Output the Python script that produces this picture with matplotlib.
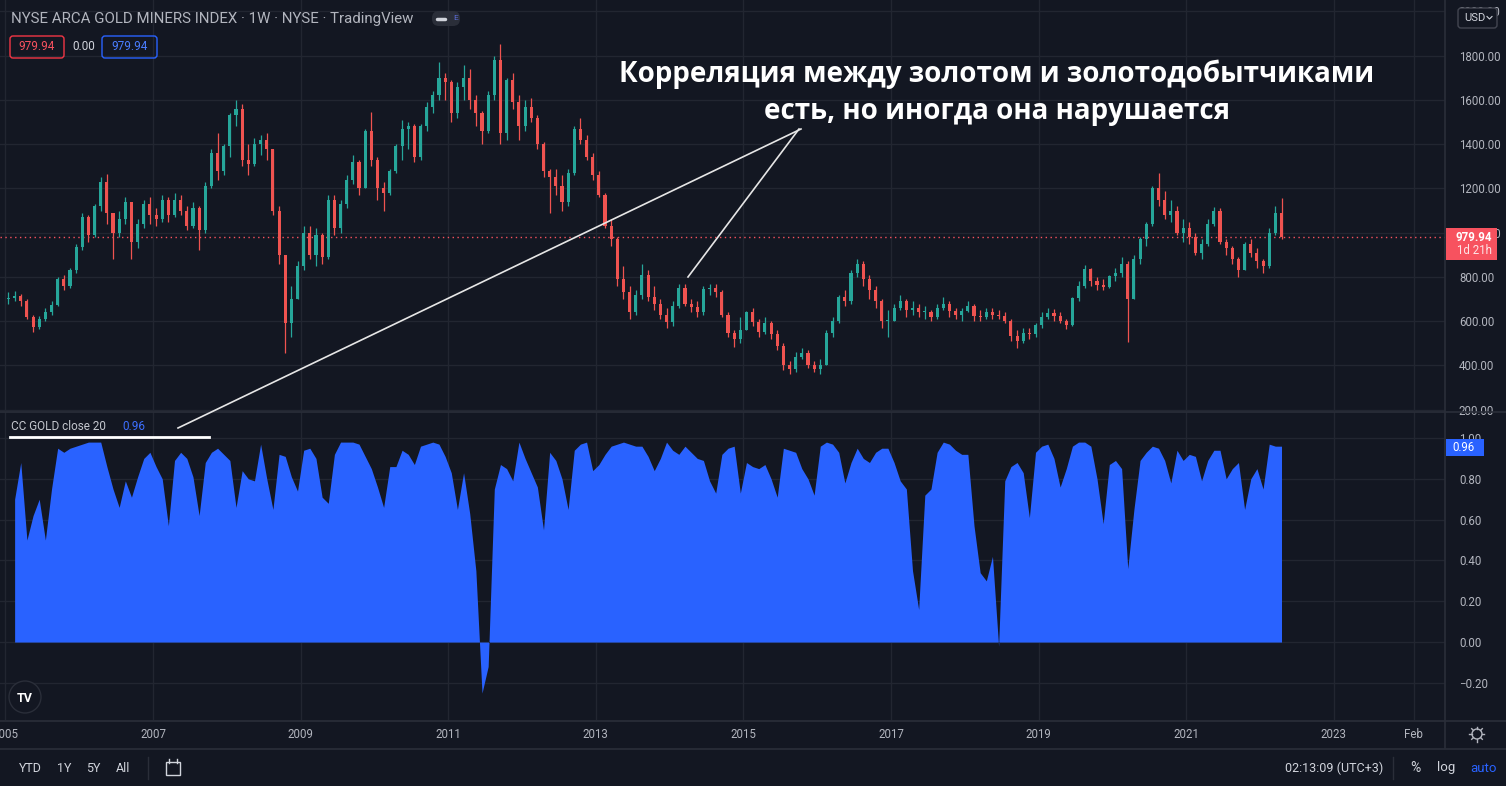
import numpy as np
import matplotlib
matplotlib.use("Agg")
import matplotlib.pyplot as plt
from matplotlib.patches import FancyBboxPatch, Rectangle, Circle

# NYSE Arca Gold Miners, read off the weekly chart and thinned to one candle per month
# (Jan 2005 .. Apr 2022). open of each candle = previous close.
first_open = 700
closes = [
    705, 715, 690, 620, 575, 610, 640, 675, 790, 760, 830, 935,            # 2005
    1070, 990, 1120, 1230, 1090, 1000, 1060, 1140, 960, 1040, 1130, 1080,  # 2006
    1060, 1150, 1080, 1150, 1100, 1030, 1110, 1010, 1210, 1360, 1280, 1390,
    1530, 1560, 1330, 1310, 1400, 1420, 1380, 1100, 900, 590, 700, 850,    # 2008
    1000, 900, 990, 890, 1150, 1020, 1130, 1240, 1320, 1200, 1460, 1330,
    1200, 1180, 1280, 1390, 1470, 1480, 1340, 1480, 1570, 1620, 1700, 1680,  # 2010
    1540, 1660, 1700, 1600, 1540, 1460, 1620, 1780, 1450, 1690, 1590, 1480,
    1570, 1520, 1400, 1280, 1250, 1210, 1140, 1270, 1470, 1420, 1340, 1260,  # 2012
    1170, 1030, 970, 790, 730, 640, 720, 810, 710, 680, 630, 595,
    670, 750, 680, 665, 640, 745, 750, 730, 630, 545, 520, 560,            # 2014
    640, 595, 550, 590, 540, 490, 400, 385, 440, 455, 400, 385,
    400, 545, 600, 710, 690, 820, 860, 790, 740, 690, 600, 600,            # 2016
    660, 690, 650, 660, 640, 640, 620, 660, 680, 645, 630, 645,
    670, 625, 620, 640, 630, 625, 600, 535, 510, 545, 540, 585,            # 2018
    620, 635, 625, 600, 585, 705, 760, 835, 780, 765, 755, 805,
    820, 860, 700, 880, 970, 1040, 1200, 1150, 1080, 1100, 1000, 1020,     # 2020
    980, 910, 950, 1040, 1100, 960, 930, 880, 830, 950, 910, 870,
    850, 1000, 1090, 979.94,                                               # 2022
]
highs = [
    730, 735, 725, 700, 630, 625, 660, 690, 800, 810, 840, 950,
    1090, 1080, 1130, 1250, 1265, 1080, 1100, 1160, 1140, 1060, 1150, 1160,
    1110, 1170, 1160, 1180, 1170, 1120, 1140, 1120, 1230, 1380, 1450, 1400,
    1540, 1600, 1580, 1400, 1430, 1440, 1450, 1380, 1120, 900, 760, 870,
    1030, 1030, 1020, 1000, 1170, 1170, 1150, 1260, 1350, 1330, 1470, 1545,
    1340, 1230, 1290, 1400, 1508, 1500, 1490, 1490, 1590, 1640, 1771, 1720,
    1690, 1680, 1760, 1740, 1620, 1550, 1640, 1800, 1852, 1700, 1720, 1620,
    1600, 1610, 1530, 1410, 1290, 1290, 1260, 1290, 1480, 1520, 1440, 1360,
    1280, 1180, 1060, 980, 850, 760, 740, 860, 830, 760, 700, 660,
    690, 770, 770, 700, 690, 760, 770, 770, 740, 640, 560, 620,
    645, 660, 610, 620, 600, 560, 500, 420, 460, 480, 470, 420,
    430, 560, 620, 720, 740, 830, 880, 870, 810, 760, 700, 650,
    680, 720, 700, 690, 680, 670, 650, 680, 710, 690, 660, 660,
    690, 680, 650, 660, 660, 650, 640, 610, 560, 570, 570, 590,
    640, 660, 655, 640, 610, 710, 780, 856, 840, 800, 790, 810,
    840, 891, 870, 900, 980, 1050, 1210, 1272, 1190, 1150, 1120, 1060,
    1050, 1000, 970, 1060, 1115, 1110, 970, 940, 890, 960, 970, 930,
    880, 1020, 1120, 1155,
]
lows = [
    680, 690, 670, 610, 550, 565, 600, 630, 670, 740, 750, 820,
    920, 960, 980, 1100, 1040, 880, 980, 1040, 880, 930, 1020, 1040,
    1030, 1050, 1050, 1070, 1080, 1010, 1020, 920, 1000, 1200, 1240, 1260,
    1340, 1480, 1300, 1260, 1300, 1350, 1330, 1080, 860, 456, 530, 700,
    830, 880, 850, 860, 880, 990, 1000, 1110, 1220, 1170, 1200, 1300,
    1150, 1096, 1170, 1270, 1330, 1380, 1320, 1330, 1460, 1540, 1600, 1600,
    1500, 1520, 1600, 1560, 1480, 1400, 1450, 1600, 1400, 1420, 1560, 1420,
    1460, 1500, 1380, 1250, 1088, 1170, 1100, 1120, 1260, 1400, 1330, 1240,
    1160, 1020, 940, 760, 700, 610, 630, 700, 690, 650, 610, 570,
    580, 660, 670, 640, 620, 630, 720, 710, 620, 530, 485, 500,
    560, 580, 530, 540, 520, 470, 380, 360, 370, 430, 390, 370,
    360, 400, 530, 590, 670, 680, 800, 760, 700, 660, 570, 530,
    600, 650, 620, 630, 620, 610, 600, 610, 650, 620, 610, 600,
    640, 600, 600, 610, 610, 610, 590, 510, 480, 500, 520, 530,
    570, 610, 600, 590, 565, 580, 690, 750, 760, 740, 740, 750,
    780, 800, 505, 700, 860, 940, 1030, 1120, 1060, 1050, 990, 960,
    950, 900, 880, 940, 1030, 950, 900, 860, 800, 830, 890, 840,
    820, 840, 990, 970,
]
# CC (correlation with GOLD, close, 20) one value per month
corr = [
    np.nan, 0.70, 0.88, 0.50, 0.62, 0.70, 0.50, 0.75, 0.95, 0.93, 0.95, 0.96,
    0.97, 0.98, 0.98, 0.98, 0.86, 0.75, 0.66, 0.79, 0.71, 0.81, 0.90, 0.93,
    0.86, 0.80, 0.57, 0.89, 0.93, 0.90, 0.81, 0.62, 0.88, 0.93, 0.95, 0.92,
    0.89, 0.66, 0.84, 0.80, 0.79, 0.97, 0.80, 0.65, 0.92, 0.91, 0.81, 0.74,
    0.94, 0.95, 0.90, 0.71, 0.68, 0.92, 0.98, 0.98, 0.98, 0.97, 0.91, 0.85,
    0.76, 0.66, 0.86, 0.86, 0.94, 0.92, 0.87, 0.96, 0.97, 0.98, 0.97, 0.91,
    0.83, 0.65, 0.83, 0.63, 0.35, -0.25, -0.12, 0.75, 0.87, 0.85, 0.79, 0.98,
    0.90, 0.83, 0.76, 0.55, 0.93, 0.89, 0.80, 0.65, 0.94, 0.97, 0.98, 0.84,
    0.87, 0.92, 0.96, 0.97, 0.98, 0.97, 0.96, 0.96, 0.91, 0.84, 0.90, 0.98,
    0.94, 0.92, 0.96, 0.93, 0.90, 0.89, 0.79, 0.73, 0.92, 0.95, 0.96, 0.73,
    0.88, 0.86, 0.85, 0.87, 0.80, 0.71, 0.95, 0.94, 0.93, 0.85, 0.80, 0.72,
    0.96, 0.98, 0.97, 0.93, 0.78, 0.88, 0.95, 0.90, 0.88, 0.93, 0.95, 0.95,
    0.88, 0.79, 0.75, 0.35, 0.16, 0.72, 0.75, 0.93, 0.98, 0.97, 0.94, 0.92,
    0.92, 0.57, 0.34, 0.30, 0.42, -0.02, 0.79, 0.86, 0.88, 0.83, 0.61, 0.93,
    0.96, 0.97, 0.90, 0.76, 0.85, 0.96, 0.98, 0.98, 0.96, 0.80, 0.58, 0.87,
    0.89, 0.85, 0.36, 0.65, 0.89, 0.93, 0.96, 0.95, 0.89, 0.78, 0.94, 0.89,
    0.92, 0.91, 0.79, 0.89, 0.94, 0.94, 0.80, 0.85, 0.88, 0.65, 0.80, 0.85,
    0.75, 0.97, 0.96, 0.96,
]
price_ticks = [200, 400, 600, 800, 1000, 1200, 1400, 1600, 1800, 2000]
corr_ticks = [-0.2, 0.0, 0.2, 0.4, 0.6, 0.8, 1.0]
year_ticks = [2005, 2007, 2009, 2011, 2013, 2015, 2017, 2019, 2021, 2023]
year_labels = ["2005", "2007", "2009", "2011", "2013", "2015", "2017", "2019", "2021", "2023"]

BG = "#131722"
GRID = "#222631"
SEP = "#2a2e39"
TXT = "#b2b5be"
UP = "#26a69a"
DOWN = "#ef5350"
BLUE = "#2962ff"
RED = "#f7525f"

plt.rcParams["font.family"] = ["Roboto", "DejaVu Sans"]

W, H = 1506, 786
fig = plt.figure(figsize=(W / 100, H / 100), dpi=100, facecolor=BG)


def px_axes(x0, y0, x1, y1):
    return fig.add_axes([x0 / W, 1 - y1 / H, (x1 - x0) / W, (y1 - y0) / H])


XLIM = (2004.927, 2024.507)
t = 2005 + (np.arange(len(closes)) + 0.5) / 12
c = np.array(closes, dtype=float)
o = np.array([first_open] + closes[:-1], dtype=float)
hi = np.array(highs, dtype=float)
lo = np.array(lows, dtype=float)
cols = np.where(c >= o, UP, DOWN)

# ---- price pane
ax1 = px_axes(0, 0, 1445, 411)
ax1.set_facecolor(BG)
ax1.vlines(t, lo, hi, colors=cols, lw=0.9, zorder=3)
ax1.bar(t, np.maximum(np.abs(c - o), 4), bottom=np.minimum(o, c), width=0.042,
        color=cols, linewidth=0, zorder=4)
ax1.axhline(c[-1], color=RED, lw=1, ls=(0, (1, 2.5)), zorder=2)
ax1.set_xlim(XLIM)
ax1.set_ylim(194.3, 2051.5)
ax1.set_yticks(price_ticks)
ax1.set_yticklabels([f"{v:.2f}" for v in price_ticks])
ax1.yaxis.tick_right()
ax1.set_xticks(year_ticks + [2024.085])
ax1.set_xticklabels([])
ax1.tick_params(axis="both", length=0, labelcolor=TXT, labelsize=8.3, pad=10)
ax1.grid(True, color=GRID, lw=1)
ax1.set_axisbelow(True)
for s in ax1.spines.values():
    s.set_visible(False)

# ---- correlation pane
ax2 = px_axes(0, 412, 1445, 720)
ax2.set_facecolor(BG)
cc = np.array(corr, dtype=float)
ax2.fill_between(t, 0, cc, color=BLUE, lw=0, zorder=3)
ax2.set_xlim(XLIM)
ax2.set_ylim(-0.382, 1.1275)
ax2.set_yticks(corr_ticks)
ax2.set_yticklabels([f"{v:.2f}".replace("-", "\u2212") for v in corr_ticks])
ax2.yaxis.tick_right()
ax2.set_xticks(year_ticks + [2024.085])
ax2.set_xticklabels(year_labels + ["Feb"])
ax2.tick_params(axis="both", length=0, labelcolor=TXT, labelsize=8.3)
ax2.tick_params(axis="y", pad=10)
ax2.tick_params(axis="x", pad=6)
ax2.grid(True, color=GRID, lw=1)
ax2.set_axisbelow(True)
for s in ax2.spines.values():
    s.set_visible(False)

# ---- overlay in pixel coordinates for the TradingView chrome
ov = fig.add_axes([0, 0, 1, 1])
ov.set_xlim(0, W)
ov.set_ylim(H, 0)
ov.axis("off")
ov.patch.set_alpha(0)
ov.set_zorder(10)

for y in (411.5, 720.5, 748.5):
    ov.plot([0, W], [y, y], color=SEP, lw=1.2)
ov.plot([1445.5, 1445.5], [0, 748], color=SEP, lw=1.2)
ov.plot([148, 148], [757, 779], color=SEP, lw=1)
ov.plot([1393, 1393], [757, 779], color=SEP, lw=1)

# header
ov.text(11, 19, "NYSE ARCA GOLD MINERS INDEX \u00b7 1W \u00b7 NYSE \u00b7 TradingView",
        color=TXT, fontsize=10.8, va="center", ha="left")
ov.add_patch(FancyBboxPatch((432, 11), 28, 15, boxstyle="round,pad=0,rounding_size=7",
                            fc="#2a2e39", ec="none"))
ov.plot([437, 445], [18.5, 18.5], color="#d1d4dc", lw=2.5, solid_capstyle="round")
ov.text(456, 18.5, "E", color="#5b6bd6", fontsize=6, ha="center", va="center")

ov.add_patch(FancyBboxPatch((10, 36), 54, 22, boxstyle="round,pad=0,rounding_size=3",
                            fc="none", ec="#f23645", lw=1))
ov.text(37, 47, "979.94", color=RED, fontsize=8.5, ha="center", va="center")
ov.text(84, 47, "0.00", color="#d1d4dc", fontsize=8.5, ha="center", va="center")
ov.add_patch(FancyBboxPatch((102, 36), 55, 22, boxstyle="round,pad=0,rounding_size=3",
                            fc="none", ec=BLUE, lw=1))
ov.text(129.5, 47, "979.94", color="#4a7dff", fontsize=8.5, ha="center", va="center")

# USD button
ov.add_patch(FancyBboxPatch((1458, 8), 39, 20, boxstyle="round,pad=0,rounding_size=3",
                            fc=BG, ec="#434651", lw=1))
ov.text(1464, 18, "USD", color="#d1d4dc", fontsize=8, ha="left", va="center")
ov.plot([1487, 1489.5, 1492], [16.5, 19, 16.5], color="#d1d4dc", lw=0.8)

# last price label
ov.add_patch(Rectangle((1446, 228), 51, 32, fc=RED, ec="none"))
ov.text(1492, 237.5, "979.94", color="white", fontsize=8.3, fontweight="bold",
        ha="right", va="center")
ov.text(1492, 251, "1d 21h", color="#fde4e6", fontsize=8.3, ha="right", va="center")

# correlation label
ov.add_patch(Rectangle((1446, 439), 38, 17, fc=BLUE, ec="none"))
ov.text(1452, 447.5, "0.96", color="white", fontsize=8.3, ha="left", va="center")

# indicator legend
ov.text(11, 427, "CC GOLD close 20", color="#c4c7ce", fontsize=8.5, ha="left", va="center")
ov.text(122, 427, "0.96", color="#3d6fff", fontsize=8.5, ha="left", va="center")
ov.plot([10, 209], [437, 437], color="white", lw=2)

# annotation
ov.text(997, 74, "Корреляция между золотом и золотодобытчиками", color="white",
        fontsize=20, fontweight="bold", ha="center", va="center", family=["Open Sans", "DejaVu Sans"])
ov.text(997, 111, "есть, но иногда она нарушается", color="white",
        fontsize=20, fontweight="bold", ha="center", va="center", family=["Open Sans", "DejaVu Sans"])
ov.plot([801, 178], [129, 428], color="#e6e6e6", lw=1.2)
ov.plot([799, 688], [129, 277], color="#e6e6e6", lw=1.2)

# TV logo
ov.add_patch(Circle((25, 697), 16, fc=BG, ec=SEP, lw=1))
ov.text(25, 698, "TV", color="white", fontsize=9, fontweight="bold", ha="center", va="center")

# gear icon
ov.add_patch(Circle((1477, 734), 5, fc="none", ec=TXT, lw=1))
for a in np.linspace(0, 2 * np.pi, 8, endpoint=False):
    ov.plot([1477 + 5 * np.cos(a), 1477 + 7.5 * np.cos(a)],
            [734 + 5 * np.sin(a), 734 + 7.5 * np.sin(a)], color=TXT, lw=1)

# bottom toolbar
for x, s in [(30, "YTD"), (64, "1Y"), (93, "5Y"), (123, "All")]:
    ov.text(x, 768, s, color="#d1d4dc", fontsize=9, ha="center", va="center")
ov.add_patch(Rectangle((166, 762), 14, 13, fc="none", ec="#d1d4dc", lw=1))
ov.plot([169, 169], [759, 763], color="#d1d4dc", lw=1)
ov.plot([177, 177], [759, 763], color="#d1d4dc", lw=1)
ov.text(1383, 768, "02:13:09 (UTC+3)", color="#d1d4dc", fontsize=9, ha="right", va="center")
ov.text(1415, 768, "%", color="#d1d4dc", fontsize=10, ha="center", va="center")
ov.text(1446, 768, "log", color="#d1d4dc", fontsize=9.5, ha="center", va="center")
ov.text(1484, 768, "auto", color=BLUE, fontsize=9.5, ha="center", va="center")

fig.savefig("out.png", dpi=100, facecolor=BG)
